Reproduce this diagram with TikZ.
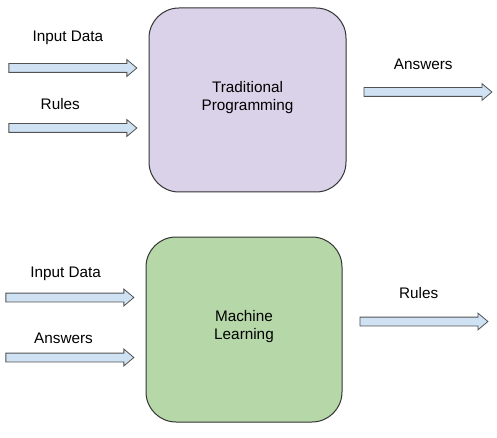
\documentclass[tikz,border=0pt]{standalone}
\usepackage{fontspec}
\setmainfont{Liberation Sans}
\usetikzlibrary{positioning,shapes.arrows}
\definecolor{tradfill}{HTML}{D9D2E9}
\definecolor{mlfill}{HTML}{B6D7A8}
\definecolor{arrowfill}{HTML}{CFE2F3}
\definecolor{edgegray}{HTML}{333333}
\begin{document}
\begin{tikzpicture}[x=1pt,y=-1pt,
  every node/.style={font=\fontsize{15.3}{18}\selectfont},
  bigbox/.style={draw=edgegray,line width=1pt,rounded corners=30pt,
    minimum width=197pt,minimum height=184pt,align=center,inner sep=0pt,text depth=9pt},
  blockarrow/.style={single arrow,draw=edgegray!85,fill=arrowfill,line width=0.8pt,
    minimum height=128pt,inner sep=4pt,single arrow head extend=4pt,
    single arrow tip angle=80,single arrow head indent=0pt},
  lbl/.style={anchor=base}]
  \useasboundingbox (0,0) rectangle (497,438);
  % the two boxes
  \node[bigbox,fill=tradfill] (trad) at (247.5,100) {Traditional\\Programming};
  \node[bigbox,fill=mlfill,minimum width=196pt,minimum height=185pt] (ml) at (244,329.5) {Machine\\Learning};
  % arrows in and out
  \foreach \blk in {trad,ml} {
    \node[blockarrow,left=11pt of \blk.west,yshift=32pt] (\blk-in1) {};
    \node[blockarrow,left=11pt of \blk.west,yshift=-28pt] (\blk-in2) {};
    \node[blockarrow,right=17pt of \blk.east,yshift=8pt] (\blk-out) {};
  }
  % labels
  \node[lbl] (tradin1lbl) at (67.8,42) {Input Data};
  \node[lbl] (tradin2lbl) at (60.3,110) {Rules};
  \node[lbl] (tradoutlbl) at (423.3,70) {Answers};
  \node[lbl] (mlin1lbl) at (65.7,277) {Input Data};
  \node[lbl] (mlin2lbl) at (63.5,343) {Answers};
  \node[lbl] (mloutlbl) at (418.7,298) {Rules};
\end{tikzpicture}
\end{document}
